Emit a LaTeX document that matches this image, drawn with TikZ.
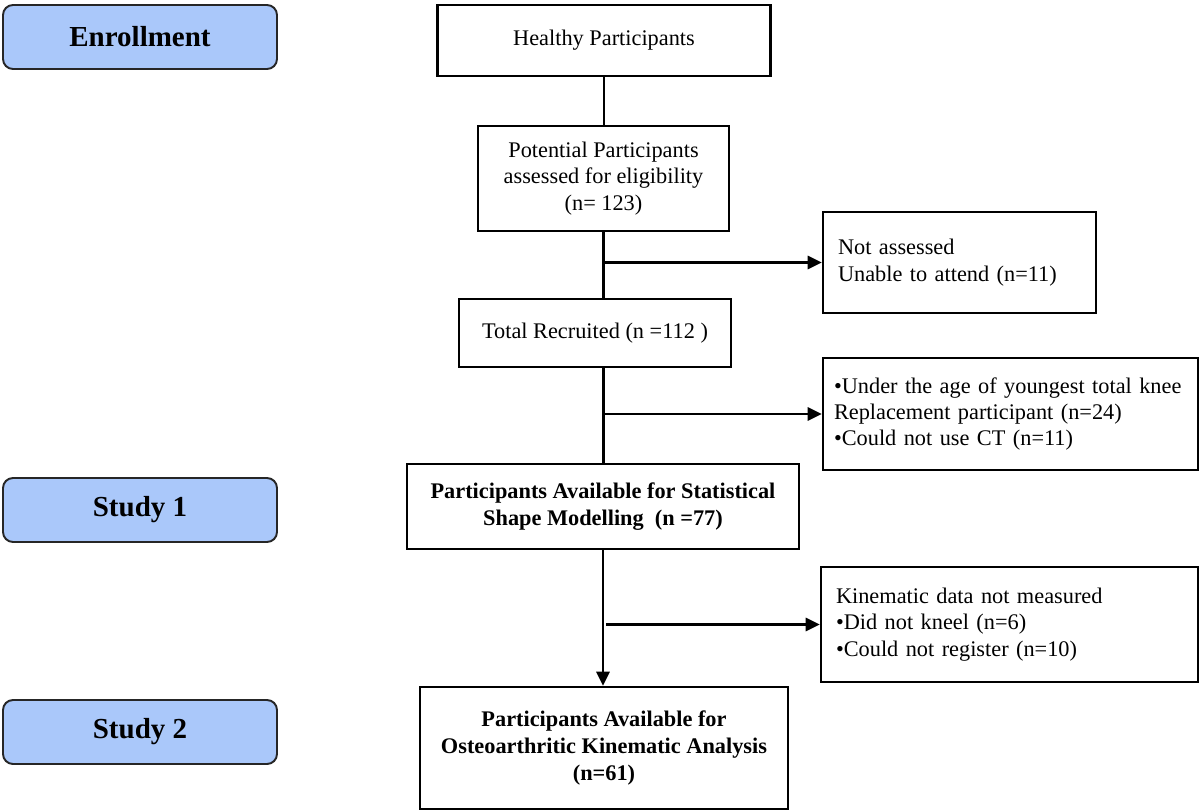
\documentclass[tikz,border=0pt]{standalone}
\usepackage{fontspec}
\setmainfont{Liberation Serif}
\usetikzlibrary{arrows.meta}
\definecolor{stageblue}{RGB}{170,200,250}
\begin{document}
\begin{tikzpicture}[
		every node/.style={font=\fontsize{12.7}{15}\selectfont},
		stage/.style={draw=black!85, line width=1.1pt, fill=stageblue, rounded corners=0.2cm,
			minimum width=5.48cm, minimum height=1.28cm, font=\fontsize{16.5}{19}\selectfont\bfseries},
		flowbox/.style={draw, line width=1.4pt, align=center, inner sep=0pt},
		exclbox/.style={draw, line width=1.4pt, align=left, inner xsep=0.3cm, inner ysep=0pt},
		link/.style={line width=1.4pt},
		arrow/.style={line width=1.4pt, -{Triangle[length=8pt,width=7.5pt]}}
	]
		%Frame of the picture
		\useasboundingbox (0,0) rectangle (24,-16.22);
		%Stage labels on the left
		\node[stage] (enroll) at (2.8,-0.74) {Enrollment};
		\node[stage] (studyone) at (2.8,-10.2) {Study 1};
		\node[stage] (studytwo) at (2.8,-14.64) {Study 2};
		%Main column
		\node[flowbox, minimum width=6.66cm, minimum height=1.42cm] (healthy) at (12.08,-0.81) {Healthy Participants};
		\node[flowbox, minimum width=5.02cm, minimum height=2.1cm] (potential) at (12.07,-3.57) {Potential Participants\\assessed for eligibility\\(n= 123)};
		\node[flowbox, minimum width=5.44cm, minimum height=1.36cm] (recruited) at (11.9,-6.66) {Total Recruited (n =112 )};
		\node[flowbox, minimum width=7.84cm, minimum height=1.7cm, font=\fontsize{12.7}{15.5}\selectfont\bfseries] (ssm) at (12.06,-10.13) {Participants Available for Statistical\\Shape Modelling\ \ (n =77)};
		\node[flowbox, minimum width=7.36cm, minimum height=2.44cm, font=\fontsize{12.7}{15.5}\selectfont\bfseries] (oka) at (12.08,-14.96) {Participants Available for\\Osteoarthritic Kinematic Analysis\\(n=61)};
		%Exclusion boxes on the right
		\node[exclbox, text width=4.86cm, minimum height=2.02cm] (notassessed) at (19.19,-5.25) {Not assessed\\Unable\ to attend (n=11)};
		\node[exclbox, inner xsep=0.22cm, text width=7.06cm, minimum height=2.24cm] (excluded) at (20.21,-8.28) {\mbox{\textbullet Under the age of youngest total knee}\\Replacement participant (n=24)\\\textbullet Could not use CT (n=11)};
		\node[exclbox, text width=6.94cm, minimum height=2.3cm] (kinematic) at (20.19,-12.49) {Kinematic data not measured\\\textbullet Did not kneel\ (n=6)\\\textbullet Could not register (n=10)};
		%Connectors
		\draw[link] (healthy.south) -- (healthy.south |- potential.north);
		\draw[link] (potential.south) -- (potential.south |- recruited.north);
		\draw[arrow] (potential.south |- notassessed.west) -- (notassessed.west);
		\draw[link] (potential.south |- recruited.south) -- (potential.south |- ssm.north);
		\draw[arrow] (potential.south |- excluded.west) -- (excluded.west);
		\draw[arrow] (ssm.south) -- (ssm.south |- oka.north);
		\draw[arrow] ([xshift=0.06cm]ssm.south |- kinematic.west) -- (kinematic.west);
\end{tikzpicture}
\end{document}
